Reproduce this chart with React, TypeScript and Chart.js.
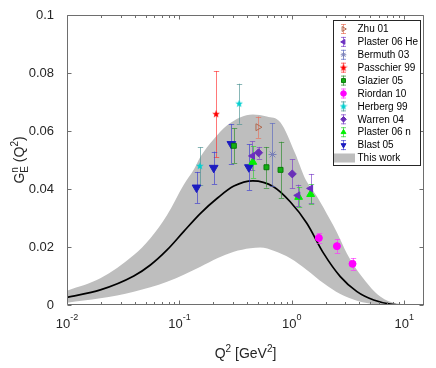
import React, { useEffect, useRef } from 'react';
import { Chart, registerables } from 'chart.js';
import { drawPoint } from 'chart.js/helpers';
Chart.register(...registerables);

const FONT = '"Liberation Sans", Arial, Helvetica, sans-serif';
const TXT = '#262626';

// ---- theory ("This work") ----
const curveQ2 = [0.01, 0.0198, 0.0393, 0.0552, 0.0777, 0.109, 0.154, 0.217, 0.305, 0.45, 0.687, 0.968, 1.36, 1.92, 2.7, 3.8, 5.35, 7.52, 10, 15];
const curveG = [0.0026, 0.0052, 0.01, 0.0138, 0.019, 0.0253, 0.0316, 0.0368, 0.041, 0.0428, 0.0408, 0.0356, 0.0282, 0.0178, 0.0098, 0.0046, 0.0017, 0.0003, 0.0, 0.0];
const upperQ2 = [0.01, 0.0198, 0.0393, 0.0552, 0.0777, 0.109, 0.134, 0.154, 0.2, 0.266, 0.45, 0.6, 0.79, 1.07, 1.3, 1.67, 2.2, 2.52, 3.09, 3.8, 6.12, 8.63, 15];
const upperG = [0.0049, 0.0092, 0.0172, 0.023, 0.031, 0.0414, 0.0466, 0.0511, 0.057, 0.062, 0.0657, 0.065, 0.063, 0.0523, 0.044, 0.0375, 0.0293, 0.025, 0.0178, 0.0121, 0.0029, 0.0005, 0];
const lowerQ2 = [0.01, 0.0198, 0.0393, 0.0777, 0.154, 0.217, 0.305, 0.429, 0.524, 0.7, 0.968, 1.36, 1.92, 2.7, 3.8, 5.35, 7.52, 15];
const lowerG = [0.0008, 0.0023, 0.0046, 0.008, 0.0132, 0.0161, 0.0184, 0.0196, 0.0198, 0.0186, 0.0161, 0.0121, 0.0075, 0.0038, 0.0015, 0.0003, 0, 0];

// ---- experiments ----
const zhuQ2 = [0.5]; const zhuG = [0.0613]; const zhuErr = [0.0037];
const plasterHeQ2 = [0.447, 1.13, 1.47]; const plasterHeG = [0.0514, 0.0378, 0.0402]; const plasterHeErr = [0.005, 0.0037, 0.005];
const bermuthQ2 = [0.673]; const bermuthG = [0.0519]; const bermuthErr = [0.0108];
const passchierQ2 = [0.212]; const passchierG = [0.0658]; const passchierErr = [0.0149];
const glazierQ2 = [0.305, 0.595, 0.794]; const glazierG = [0.0549, 0.0475, 0.0466]; const glazierErr = [0.006, 0.007, 0.0097];
const riordanQ2 = [1.74, 2.52, 3.47]; const riordanG = [0.0231, 0.0203, 0.0142]; const riordanErr = [0.0016, 0.0024, 0.002];
const herbergQ2 = [0.152, 0.34]; const herbergG = [0.0479, 0.0694]; const herbergErr = [0.0065, 0.0069];
const warrenQ2 = [0.506, 1.01]; const warrenG = [0.0525, 0.0452]; const warrenErr = [0.002, 0.005];
const plasterNQ2 = [0.45, 1.15, 1.47]; const plasterNG = [0.0493, 0.0372, 0.0382]; const plasterNErr = [0.0055, 0.0035, 0.0034];
const blastQ2 = [0.142, 0.202, 0.29, 0.415]; const blastG = [0.0405, 0.0473, 0.0555, 0.0475]; const blastErr = [0.0054, 0.0056, 0.0068, 0.0079];

const yTicks = [0, 0.02, 0.04, 0.06, 0.08, 0.1];
const xTickExp = [-2, -1, 0, 1];

function starCanvas(color: string, size: number) {
  const c = document.createElement('canvas');
  c.width = size; c.height = size;
  const ctx = c.getContext('2d')!;
  ctx.fillStyle = color;
  ctx.beginPath();
  const cx = size / 2, cy = size / 2, R = size / 2, r = R * 0.42;
  for (let i = 0; i < 10; i++) {
    const a = -Math.PI / 2 + (i * Math.PI) / 5;
    const rad = i % 2 ? r : R;
    ctx.lineTo(cx + rad * Math.cos(a), cy + rad * Math.sin(a));
  }
  ctx.closePath();
  ctx.fill();
  return c;
}

type Exp = {
  label: string; q2: number[]; g: number[]; err: number[];
  bar: string; fill: string; border: string; style: any; rot: number; radius: number; bw: number;
};

function buildExps(): Exp[] {
  return [
    { label: 'Zhu 01', q2: zhuQ2, g: zhuG, err: zhuErr, bar: '#e8705a', fill: 'rgba(0,0,0,0)', border: '#b06a50', style: 'triangle', rot: 90, radius: 4, bw: 1 },
    { label: 'Plaster 06 He', q2: plasterHeQ2, g: plasterHeG, err: plasterHeErr, bar: '#7a3cc8', fill: '#6c2fc0', border: '#6c2fc0', style: 'triangle', rot: -90, radius: 4, bw: 1 },
    { label: 'Bermuth 03', q2: bermuthQ2, g: bermuthG, err: bermuthErr, bar: '#5a68c0', fill: '#7a80b8', border: '#7a80b8', style: 'star', rot: 0, radius: 4, bw: 1 },
    { label: 'Passchier 99', q2: passchierQ2, g: passchierG, err: passchierErr, bar: '#ff3030', fill: '#ff0000', border: '#ff0000', style: starCanvas('#ff0000', 8), rot: 0, radius: 4, bw: 0 },
    { label: 'Glazier 05', q2: glazierQ2, g: glazierG, err: glazierErr, bar: '#2a8a2a', fill: '#12b012', border: '#0a7a0a', style: 'rect', rot: 0, radius: 3.5, bw: 1 },
    { label: 'Riordan 10', q2: riordanQ2, g: riordanG, err: riordanErr, bar: '#ff30ff', fill: '#ff00ff', border: '#ff00ff', style: 'circle', rot: 0, radius: 3.5, bw: 1 },
    { label: 'Herberg 99', q2: herbergQ2, g: herbergG, err: herbergErr, bar: '#4a9090', fill: '#00d8d8', border: '#00d8d8', style: starCanvas('#00d0d0', 8), rot: 0, radius: 4, bw: 0 },
    { label: 'Warren 04', q2: warrenQ2, g: warrenG, err: warrenErr, bar: '#7a3cc8', fill: '#6a2fb8', border: '#6a2fb8', style: 'rectRot', rot: 0, radius: 4, bw: 1 },
    { label: 'Plaster 06 n', q2: plasterNQ2, g: plasterNG, err: plasterNErr, bar: '#30d030', fill: '#00f000', border: '#00f000', style: 'triangle', rot: 0, radius: 4.5, bw: 1 },
    { label: 'Blast 05', q2: blastQ2, g: blastG, err: blastErr, bar: '#3a3ad0', fill: '#1c1cc0', border: '#1c1cc0', style: 'triangle', rot: 180, radius: 5, bw: 1 },
  ];
}

export default function App() {
  const ref = useRef<HTMLCanvasElement | null>(null);
  useEffect(() => {
    document.body.style.margin = '0';
    const canvas = ref.current!;
    const exps = buildExps();
    const CURVE = exps.length;

    const datasets: any[] = exps.map((e) => ({
      label: e.label,
      data: e.q2.map((q, i) => ({ x: q, y: e.g[i] })),
      showLine: false,
      pointStyle: e.style,
      pointRotation: e.rot,
      pointRadius: e.radius,
      pointBackgroundColor: e.fill,
      pointBorderColor: e.border,
      pointBorderWidth: e.bw,
      borderColor: e.border,
      backgroundColor: e.fill,
    }));
    datasets.push({
      label: 'curve',
      data: curveQ2.map((q, i) => ({ x: q, y: curveG[i] })),
      borderColor: '#000000', borderWidth: 1.7, pointRadius: 0, cubicInterpolationMode: 'monotone', fill: false,
    });
    datasets.push({
      label: 'This work',
      data: upperQ2.map((q, i) => ({ x: q, y: upperG[i] })),
      borderWidth: 0, borderColor: 'rgba(0,0,0,0)', backgroundColor: '#bebebe', pointRadius: 0,
      cubicInterpolationMode: 'monotone', fill: '+1',
    });
    datasets.push({
      label: 'lower',
      data: lowerQ2.map((q, i) => ({ x: q, y: lowerG[i] })),
      borderWidth: 0, borderColor: 'rgba(0,0,0,0)', pointRadius: 0,
      cubicInterpolationMode: 'monotone', fill: false,
    });

    const errorBars = {
      id: 'errorBars',
      afterDatasetDraw(chart: any, args: any) {
        if (args.index !== CURVE) return;
        const ctx = chart.ctx; const xs = chart.scales.x; const ys = chart.scales.y;
        ctx.save();
        ctx.lineWidth = 1;
        exps.forEach((e) => {
          ctx.strokeStyle = e.bar;
          ctx.globalAlpha = 0.65;
          e.q2.forEach((q, i) => {
            const x = Math.round(xs.getPixelForValue(q)) + 0.5;
            const y1 = ys.getPixelForValue(e.g[i] + e.err[i]);
            const y2 = ys.getPixelForValue(e.g[i] - e.err[i]);
            ctx.beginPath();
            ctx.moveTo(x, y1); ctx.lineTo(x, y2);
            ctx.moveTo(x - 2.7, Math.round(y1) + 0.5); ctx.lineTo(x + 2.7, Math.round(y1) + 0.5);
            ctx.moveTo(x - 2.7, Math.round(y2) + 0.5); ctx.lineTo(x + 2.7, Math.round(y2) + 0.5);
            ctx.stroke();
          });
        });
        ctx.restore();
      },
    };

    const frame = {
      id: 'frame',
      afterDraw(chart: any) {
        const ctx = chart.ctx; const a = chart.chartArea; const xs = chart.scales.x; const ys = chart.scales.y;
        ctx.save();
        ctx.strokeStyle = '#6e6e6e'; ctx.lineWidth = 1;
        const L = Math.round(a.left) + 0.5, R = Math.round(a.right) - 0.5, T = Math.round(a.top) + 0.5, B = Math.round(a.bottom) - 0.5;
        ctx.beginPath();
        ctx.rect(L, T, R - L, B - T);
        yTicks.forEach((v) => {
          const y = Math.round(ys.getPixelForValue(v)) + 0.5;
          ctx.moveTo(L, y); ctx.lineTo(L + 4, y);
          ctx.moveTo(R, y); ctx.lineTo(R - 4, y);
        });
        for (let p = -2; p <= 1; p++) {
          for (let m = 1; m <= 9; m++) {
            const v = m * Math.pow(10, p);
            if (v > xs.max) continue;
            const x = Math.round(xs.getPixelForValue(v)) + 0.5;
            const len = m === 1 ? 4 : 2.5;
            ctx.moveTo(x, B); ctx.lineTo(x, B - len);
            ctx.moveTo(x, T); ctx.lineTo(x, T + len);
          }
        }
        ctx.stroke();

        ctx.fillStyle = TXT;
        ctx.textBaseline = 'alphabetic';
        xTickExp.forEach((p) => {
          const x = xs.getPixelForValue(Math.pow(10, p));
          ctx.font = `13px ${FONT}`;
          const wb = ctx.measureText('10').width;
          ctx.font = `9px ${FONT}`;
          const es = String(p);
          const we = ctx.measureText(es).width;
          const x0 = x - (wb + we) / 2;
          ctx.font = `13px ${FONT}`;
          ctx.textAlign = 'left';
          ctx.fillText('10', x0, 328);
          ctx.font = `9px ${FONT}`;
          ctx.fillText(es, x0 + wb, 320);
        });

        const big = `14px ${FONT}`, small = `10px ${FONT}`;
        const parts: [string, string, number][] = [['Q', big, 0], ['2', small, -6], [' [GeV', big, 0], ['2', small, -6], [']', big, 0]];
        let tw = 0;
        parts.forEach(([t, f]) => { ctx.font = f; tw += ctx.measureText(t).width; });
        let cx = (a.left + a.right) / 2 - tw / 2;
        parts.forEach(([t, f, dy]) => { ctx.font = f; ctx.fillText(t, cx, 358 + dy); cx += ctx.measureText(t).width; });

        ctx.save();
        ctx.translate(23.5, (a.top + a.bottom) / 2);
        ctx.rotate(-Math.PI / 2);
        ctx.font = big; const wG = ctx.measureText('G').width;
        ctx.font = small; const wn = ctx.measureText('n').width; const wE = ctx.measureText('E').width;
        const wSub = Math.max(wn, wE);
        ctx.font = big; const wRest = ctx.measureText(' (Q').width; const wClose = ctx.measureText(')').width;
        ctx.font = small; const w2 = ctx.measureText('2').width;
        const total = wG + wSub + wRest + w2 + wClose;
        let yx = -total / 2;
        ctx.font = big; ctx.fillText('G', yx, 0); yx += wG;
        ctx.font = small; ctx.fillText('n', yx, -6); ctx.fillText('E', yx, 4); yx += wSub;
        ctx.font = big; ctx.fillText(' (Q', yx, 0); yx += wRest;
        ctx.font = small; ctx.fillText('2', yx, -6); yx += w2;
        ctx.font = big; ctx.fillText(')', yx, 0);
        ctx.restore();

        const lx = 333.5, ly = 20.5, lw = 87, lh = 145;
        ctx.fillStyle = '#ffffff';
        ctx.fillRect(lx, ly, lw, lh);
        ctx.strokeStyle = '#262626';
        ctx.strokeRect(lx, ly, lw, lh);
        ctx.font = `10px ${FONT}`;
        ctx.textBaseline = 'middle';
        const step = 12.9;
        exps.forEach((e, i) => {
          const y = 29 + i * step;
          const sx = 343.5;
          ctx.save();
          ctx.globalAlpha = 0.7;
          ctx.strokeStyle = e.bar;
          ctx.beginPath();
          ctx.moveTo(sx, y - 5); ctx.lineTo(sx, y + 5);
          ctx.moveTo(sx - 2.5, y - 4.5); ctx.lineTo(sx + 2.5, y - 4.5);
          ctx.moveTo(sx - 2.5, y + 4.5); ctx.lineTo(sx + 2.5, y + 4.5);
          ctx.stroke();
          ctx.restore();
          ctx.fillStyle = e.fill; ctx.strokeStyle = e.border; ctx.lineWidth = e.bw || 1;
          drawPoint(ctx, { pointStyle: e.style, rotation: e.rot, radius: Math.min(e.radius, 3.5) * 0.8, borderWidth: e.bw }, sx, y);
          ctx.lineWidth = 1;
          ctx.fillStyle = '#000000';
          ctx.fillText(e.label, 357.5, y + 0.5);
        });
        const yw = 29 + exps.length * step;
        ctx.fillStyle = '#bebebe';
        ctx.fillRect(334, yw - 4.5, 21, 9);
        ctx.fillStyle = '#000000';
        ctx.fillText('This work', 357.5, yw + 0.5);
        ctx.restore();
      },
    };

    const chart = new Chart(canvas, {
      type: 'line',
      data: { datasets },
      options: {
        animation: false,
        responsive: false,
        events: [],
        layout: { padding: { left: 0, right: 12, top: 15, bottom: 0 } },
        plugins: { legend: { display: false }, tooltip: { enabled: false } },
        scales: {
          x: {
            type: 'logarithmic', min: 0.01, max: 15,
            grid: { display: false }, border: { display: false },
            ticks: { display: false },
            afterFit: (s: any) => { s.height = 63; },
          },
          y: {
            type: 'linear', min: 0, max: 0.1,
            grid: { display: false }, border: { display: false },
            afterBuildTicks: (s: any) => { s.ticks = yTicks.map((v) => ({ value: v })); },
            ticks: {
              padding: 5, color: TXT, font: { family: FONT, size: 13 },
              callback: (v: any) => (v === 0 ? '0' : String(+Number(v).toFixed(2))),
            },
            afterFit: (s: any) => { s.width = 67; },
          },
        },
      },
      plugins: [errorBars, frame],
    } as any);
    return () => chart.destroy();
  }, []);
  return (
    <div style={{ width: 436, height: 368 }}>
      <canvas ref={ref} width={436} height={368} />
    </div>
  );
}
